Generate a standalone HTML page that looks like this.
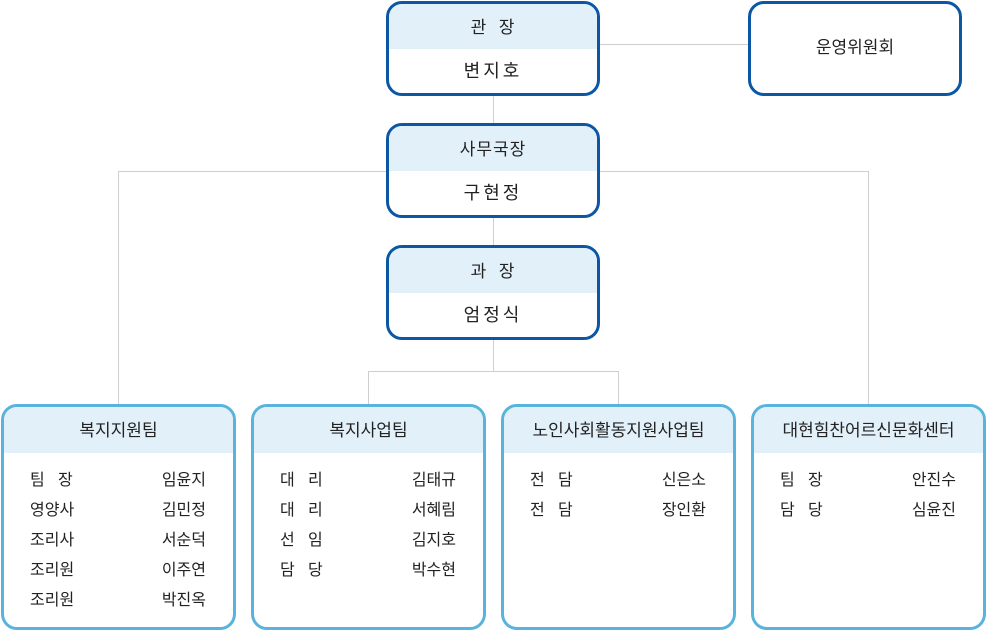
<!DOCTYPE html>
<html><head><meta charset="utf-8"><style>
body{margin:0;width:986px;height:630px;background:#fff;position:relative;overflow:hidden;font-family:"Liberation Sans","Noto Sans CJK KR",sans-serif;color:#222}
.b{position:absolute;box-sizing:border-box;border-radius:16px;overflow:hidden;background:#fff}
.t{border:3px solid #0b57a4;width:214px;height:95px}
.t .h{height:45px;background:#e2f0fa;text-align:center;line-height:47px;font-size:17px;letter-spacing:1px}
.t .n{text-align:center;line-height:44px;font-size:18px;letter-spacing:3px}
.w{border:3px solid #5ab3dd;width:235px;height:226px}
.w .h{height:46px;background:#e2f0fa;text-align:center;line-height:48px;font-size:17px}
.r{position:absolute;font-size:16px;line-height:30px}
.l{position:absolute;background:#cfcfcf}
</style></head><body>
<div class="l" style="left:600px;top:44px;width:148px;height:1px"></div>
<div class="l" style="left:493px;top:95px;width:1px;height:28px"></div>
<div class="l" style="left:493px;top:217px;width:1px;height:28px"></div>
<div class="l" style="left:493px;top:339px;width:1px;height:32px"></div>
<div class="l" style="left:118px;top:171px;width:268px;height:1px"></div>
<div class="l" style="left:600px;top:171px;width:268px;height:1px"></div>
<div class="l" style="left:118px;top:171px;width:1px;height:233px"></div>
<div class="l" style="left:868px;top:171px;width:1px;height:233px"></div>
<div class="l" style="left:368px;top:371px;width:250px;height:1px"></div>
<div class="l" style="left:368px;top:371px;width:1px;height:33px"></div>
<div class="l" style="left:618px;top:371px;width:1px;height:33px"></div>

<div class="b t" style="left:386px;top:1px"><div class="h">관 &nbsp;장</div><div class="n">변지호</div></div>
<div class="b t" style="left:748px;top:1px;line-height:88px;text-align:center;font-size:17px">운영위원회</div>
<div class="b t" style="left:386px;top:123px"><div class="h">사무국장</div><div class="n">구현정</div></div>
<div class="b t" style="left:386px;top:245px"><div class="h">과 &nbsp;장</div><div class="n">엄정식</div></div>

<div class="b w" style="left:1px;top:404px"><div class="h">복지지원팀</div>
<div class="r" style="left:26px;top:59px">팀 &nbsp;&nbsp;장<br>영양사<br>조리사<br>조리원<br>조리원</div>
<div class="r" style="right:27px;top:59px">임윤지<br>김민정<br>서순덕<br>이주연<br>박진옥</div></div>
<div class="b w" style="left:251px;top:404px"><div class="h">복지사업팀</div>
<div class="r" style="left:26px;top:59px">대 &nbsp;&nbsp;리<br>대 &nbsp;&nbsp;리<br>선 &nbsp;&nbsp;임<br>담 &nbsp;&nbsp;당</div>
<div class="r" style="right:27px;top:59px">김태규<br>서혜림<br>김지호<br>박수현</div></div>
<div class="b w" style="left:501px;top:404px"><div class="h">노인사회활동지원사업팀</div>
<div class="r" style="left:26px;top:59px">전 &nbsp;&nbsp;담<br>전 &nbsp;&nbsp;담</div>
<div class="r" style="right:27px;top:59px">신은소<br>장인환</div></div>
<div class="b w" style="left:751px;top:404px"><div class="h">대현힘찬어르신문화센터</div>
<div class="r" style="left:26px;top:59px">팀 &nbsp;&nbsp;장<br>담 &nbsp;&nbsp;당</div>
<div class="r" style="right:27px;top:59px">안진수<br>심윤진</div></div>
</body></html>
